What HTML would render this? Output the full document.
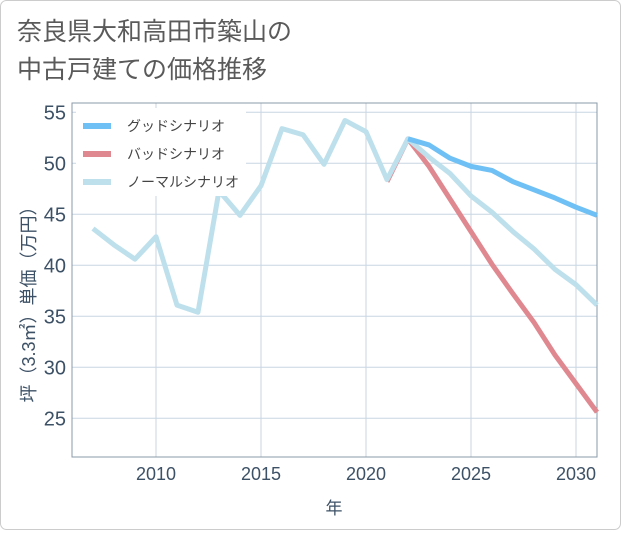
<!DOCTYPE html>
<html><head><meta charset="utf-8"><style>
html,body{margin:0;padding:0;background:#fff}
svg text{font-family:"Liberation Sans","Noto Sans CJK JP",sans-serif}
</style></head><body>
<svg width="621" height="530" xmlns="http://www.w3.org/2000/svg">
<rect x="0.5" y="0.5" width="620" height="529" rx="6" fill="#fff" stroke="#ccc"/>
<text x="17" y="40" font-size="25" fill="#5a5a5a">奈良県大和高田市築山の</text>
<text x="17" y="78" font-size="25" fill="#5a5a5a">中古戸建ての価格推移</text>
<g id="grid"></g>
<rect x="72" y="103" width="525" height="354" fill="none" stroke="#8a9aa8" stroke-width="1"/>
<g id="ticks"></g>
<g id="series"></g>
<text transform="translate(35,300) rotate(-90)" text-anchor="middle" font-size="18" fill="#3d5166">坪（3.3㎡）単価（万円）</text>
<text x="334" y="514" text-anchor="middle" font-size="17" fill="#3d5166">年</text>
<g id="legend"></g>
</svg>
<script>
const years=[2007,2008,2009,2010,2011,2012,2013,2014,2015,2016,2017,2018,2019,2020,2021,2022,2023,2024,2025,2026,2027,2028,2029,2030,2031];
const normal=[43.6,42,40.6,42.8,36.1,35.4,47.3,44.9,47.8,53.4,52.8,49.9,54.2,53.1,48.4,52.4,50.6,49.0,46.8,45.2,43.3,41.6,39.6,38.1,36.1];
const goodYears=[2022,2023,2024,2025,2026,2027,2028,2029,2030,2031];
const good=[52.4,51.8,50.5,49.7,49.3,48.2,47.4,46.6,45.7,44.9];
const badYears=[2021,2022,2023,2024,2025,2026,2027,2028,2029,2030,2031];
const bad=[48.2,52.4,49.7,46.5,43.3,40.1,37.2,34.4,31.2,28.4,25.6];
const yTicks=[25,30,35,40,45,50,55];
const xTicks=[2010,2015,2020,2025,2030];
const X=y=>156+(y-2010)*21;
const Y=v=>163.3-(v-50)*10.2;
const NS='http://www.w3.org/2000/svg';
function mk(t,a,p){const e=document.createElementNS(NS,t);for(const k in a)e.setAttribute(k,a[k]);p.appendChild(e);return e;}
const grid=document.getElementById('grid'),ticks=document.getElementById('ticks');
yTicks.forEach(v=>{const l=mk('line',{x1:72,x2:597,y1:Y(v),y2:Y(v),stroke:'#c8d6e2','stroke-width':1},grid);


const t=mk('text',{x:66,y:Y(v)+7,'text-anchor':'end','font-size':20,fill:'#3d5166'},ticks);t.textContent=v;

});
xTicks.forEach(v=>{const l=mk('line',{x1:X(v),x2:X(v),y1:103,y2:457,stroke:'#c8d6e2','stroke-width':1},grid);


const t=mk('text',{x:X(v),y:480,'text-anchor':'middle','font-size':18,fill:'#3d5166'},ticks);t.textContent=v;

});
const ser=document.getElementById('series');
function line(xs,vs,c,name){const p=mk('polyline',{points:xs.map((y,i)=>X(y)+','+Y(vs[i])).join(' '),fill:'none',stroke:c,'stroke-width':5,'stroke-linejoin':'round'},ser);

}
line(badYears,bad,'#e0888f','bad-scenario-line');
line(years,normal,'#bde0ec','normal-scenario-line');
line(goodYears,good,'#6ec0f5','good-scenario-line');
const lg=document.getElementById('legend');
const leg=[['グッドシナリオ','#6ec0f5'],['バッドシナリオ','#e0888f'],['ノーマルシナリオ','#bde0ec']];
mk('rect',{x:76,y:108,width:170,height:88,fill:'#fff'},lg);
leg.forEach((d,i)=>{const y=126+i*28;const g=mk('g',{},lg);


mk('line',{x1:83,x2:111,y1:y,y2:y,stroke:d[1],'stroke-width':6},g);
const t=mk('text',{x:127,y:y+5,'font-size':14,fill:'#444'},g);t.textContent=d[0];});
</script>
</body></html>
